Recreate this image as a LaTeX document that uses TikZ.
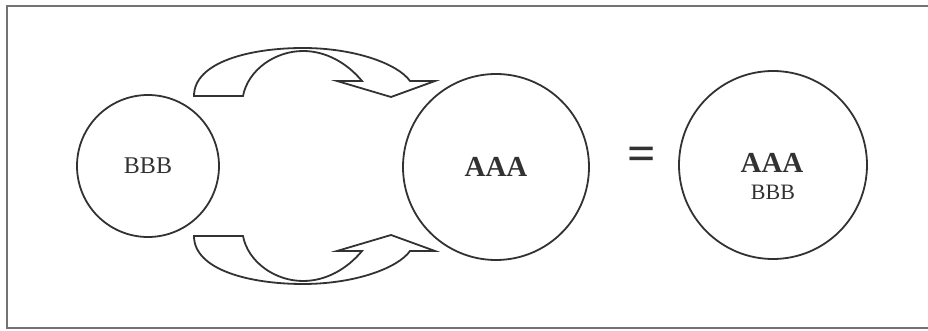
\documentclass[tikz,border=0pt]{standalone}
\usepackage{fontspec}
\setmainfont{Liberation Serif}
\definecolor{inkgray}{RGB}{50,50,50}
\definecolor{framegray}{RGB}{115,115,115}
\usetikzlibrary{positioning}

% one bent block arrow, drawn in pixel units
\newcommand{\bandarrow}{%
  (194,96) .. controls (194,62) and (250,48) .. (303,48)
  .. controls (355,48) and (398,64) .. (410,81)
  -- (435,81) -- (391,97) -- (337,81) -- (362,81)
  .. controls (347,63) and (326,51) .. (303,51)
  .. controls (275,51) and (248,70) .. (243,96) -- cycle}

\begin{document}
\begin{tikzpicture}[
        x=0.5pt, y=-0.5pt,
        every node/.style={text=inkgray},
        ring/.style={circle, draw=inkgray, line width=0.9pt, inner sep=0pt},
        band/.style={draw=inkgray, line width=0.9pt, line join=miter},
    ]
        \useasboundingbox (0,0) rectangle (928,331);

        % Frame
        \draw[framegray, line width=1.2pt] (7,6) rectangle (940,328);

        % Circles
        \node[ring, minimum size=71pt, font=\fontsize{12}{14}\selectfont] (bbb) at (148,166) {BBB};
        \node[ring, minimum size=93pt, font=\fontsize{14.5}{17}\selectfont\bfseries] (aaa) at (496,167) {AAA};
        \node[ring, minimum size=94pt] (both) at (773,165) {};
        \node[font=\fontsize{14.5}{17}\selectfont\bfseries] (bothtop) at (772,163) {AAA};
        \node[font=\fontsize{11}{13}\selectfont] (bothbot) at (773,192) {BBB};

        % Equals sign
        \node[anchor=base, font=\fontsize{25}{30}\selectfont\bfseries, inner sep=0pt] (eq) at (642,170.5) {=};

        % Bent arrows
        \draw[band] \bandarrow;
        \begin{scope}[shift={(0,332)}, yscale=-1]
            \draw[band] \bandarrow;
        \end{scope}

    \end{tikzpicture}
\end{document}
